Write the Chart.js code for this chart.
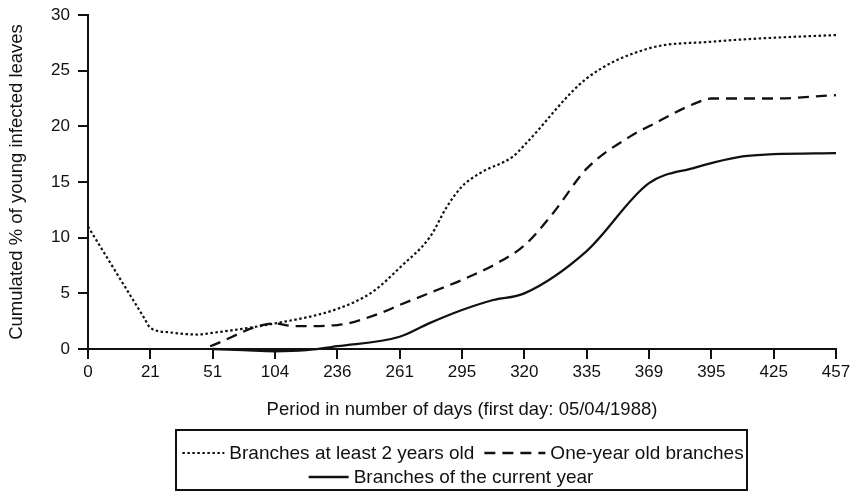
<!DOCTYPE html>
<html>
<head>
<meta charset="utf-8">
<script src="https://cdn.jsdelivr.net/npm/chart.js@4/dist/chart.umd.min.js"></script>
<style>
  html, body { margin: 0; padding: 0; background: #fff; }
  canvas { display: block; }
</style>
</head>
<body>
<canvas id="chart" width="852" height="494"></canvas>
<script>
// Observation days, shown as evenly spaced ticks
const dayLabels = ['0', '21', '51', '104', '236', '261', '295', '320', '335', '369', '395', '425', '457'];
const yTicks = [0, 5, 10, 15, 20, 25, 30];

// Positions are measured in tick steps along the day axis (0 = day 0, 12 = day 457)
const olderPos = [0, 0.9, 1, 1.3, 1.75, 2, 3, 4, 4.57, 5, 5.49, 5.76, 6, 6.29, 6.82, 7, 8, 9, 10, 10.8, 12];
const olderVal = [11.0, 2.8, 1.9, 1.5, 1.3, 1.45, 2.3, 3.6, 5.15, 7.3, 10.1, 12.8, 14.6, 15.8, 17.3, 18.3, 24.3, 27.0, 27.6, 27.9, 28.2];

const oneYearPos = [1.96, 3, 3.3, 4, 4.68, 5, 5.6, 6, 6.56, 7, 7.46, 8, 8.7, 9, 9.8, 10, 11, 12];
const oneYearVal = [0.25, 2.3, 2.05, 2.15, 3.2, 3.95, 5.3, 6.2, 7.7, 9.3, 12.2, 16.2, 19.1, 20.0, 22.2, 22.5, 22.5, 22.8];

const currentPos = [2, 2.5, 3, 3.5, 4, 5, 5.47, 6, 6.5, 7, 8, 9, 9.74, 10, 10.5, 11, 12];
const currentVal = [0, -0.1, -0.2, -0.1, 0.25, 1.1, 2.3, 3.5, 4.4, 5.0, 8.8, 14.9, 16.3, 16.7, 17.3, 17.5, 17.6];

const seriesNames = ['Branches at least 2 years old', 'One-year old branches', 'Branches of the current year'];

const INK = '#111';
const FONT = '"Liberation Sans", Arial, Helvetica, sans-serif';

function points(pos, val) {
  return pos.map((p, i) => ({ x: p, y: val[i] }));
}

// Boxed legend below the axis title, two rows of line samples
const boxedLegend = {
  id: 'boxedLegend',
  afterDraw(chart) {
    const ctx = chart.ctx;
    const ds = chart.data.datasets;
    ctx.save();
    ctx.strokeStyle = INK;
    ctx.lineWidth = 2;
    ctx.setLineDash([]);
    ctx.strokeRect(176, 430, 571, 60);

    ctx.font = '19px ' + FONT;
    ctx.fillStyle = INK;
    ctx.textBaseline = 'middle';
    ctx.textAlign = 'left';

    const sampleW = [42, 61, 40];
    const rows = [[0, 1], [2]];
    const rowY = [453, 477];
    const rowCenter = [463, 451];
    rows.forEach((row, r) => {
      let total = 0;
      row.forEach((i, k) => {
        total += sampleW[i] + 5 + ctx.measureText(ds[i].label).width + (k < row.length - 1 ? 10 : 0);
      });
      let x = rowCenter[r] - total / 2;
      row.forEach((i) => {
        ctx.beginPath();
        ctx.lineWidth = ds[i].borderWidth;
        ctx.setLineDash(ds[i].borderDash || []);
        ctx.moveTo(x, rowY[r]);
        ctx.lineTo(x + sampleW[i], rowY[r]);
        ctx.stroke();
        ctx.setLineDash([]);
        x += sampleW[i] + 5;
        ctx.fillText(ds[i].label, x, rowY[r] + 1);
        x += ctx.measureText(ds[i].label).width + 10;
      });
    });
    ctx.restore();
  }
};

new Chart(document.getElementById('chart'), {
  type: 'line',
  data: {
    datasets: [
      {
        label: seriesNames[0],
        data: points(olderPos, olderVal),
        borderColor: INK,
        borderWidth: 2.2,
        borderDash: [2.5, 2.5],
        cubicInterpolationMode: 'monotone',
        pointRadius: 0,
        fill: false,
        clip: false
      },
      {
        label: seriesNames[1],
        data: points(oneYearPos, oneYearVal),
        borderColor: INK,
        borderWidth: 2.3,
        borderDash: [11, 7],
        cubicInterpolationMode: 'monotone',
        pointRadius: 0,
        fill: false,
        clip: false
      },
      {
        label: seriesNames[2],
        data: points(currentPos, currentVal),
        borderColor: INK,
        borderWidth: 2.3,
        cubicInterpolationMode: 'monotone',
        pointRadius: 0,
        fill: false,
        clip: false
      }
    ]
  },
  options: {
    responsive: false,
    animation: false,
    devicePixelRatio: 1,
    layout: { padding: { left: 0, right: 16, top: 15, bottom: 69 } },
    plugins: {
      legend: { display: false },
      tooltip: { enabled: false }
    },
    scales: {
      x: {
        type: 'linear',
        min: 0,
        max: dayLabels.length - 1,
        afterBuildTicks(scale) {
          scale.ticks = dayLabels.map((_, i) => ({ value: i }));
        },
        afterFit(scale) {
          scale.height = 76;
          scale.paddingLeft = 0;
          scale.paddingRight = 0;
        },
        ticks: {
          autoSkip: false,
          maxRotation: 0,
          padding: 3,
          color: INK,
          font: { family: FONT, size: 17 },
          callback: (v) => dayLabels[v]
        },
        grid: {
          drawOnChartArea: false,
          drawTicks: true,
          tickLength: 10,
          color: INK,
          lineWidth: 2
        },
        border: { display: true, color: INK, width: 2 },
        title: {
          display: true,
          text: 'Period in number of days (first day: 05/04/1988)',
          color: INK,
          font: { family: FONT, size: 18.5 },
          padding: { top: 14, bottom: 4 }
        }
      },
      y: {
        min: 0,
        max: 30,
        afterBuildTicks(scale) {
          scale.ticks = yTicks.map((v) => ({ value: v }));
        },
        afterFit(scale) {
          scale.width = 88;
          scale.paddingTop = 0;
          scale.paddingBottom = 0;
        },
        ticks: {
          padding: 8,
          color: INK,
          font: { family: FONT, size: 17 }
        },
        grid: {
          drawOnChartArea: false,
          drawTicks: true,
          tickLength: 10,
          color: INK,
          lineWidth: 2
        },
        border: { display: true, color: INK, width: 2 },
        title: {
          display: true,
          text: 'Cumulated % of young infected leaves',
          color: INK,
          font: { family: FONT, size: 18.5 },
          padding: { top: 6, bottom: 0 }
        }
      }
    }
  },
  plugins: [boxedLegend]
});
</script>
</body>
</html>
